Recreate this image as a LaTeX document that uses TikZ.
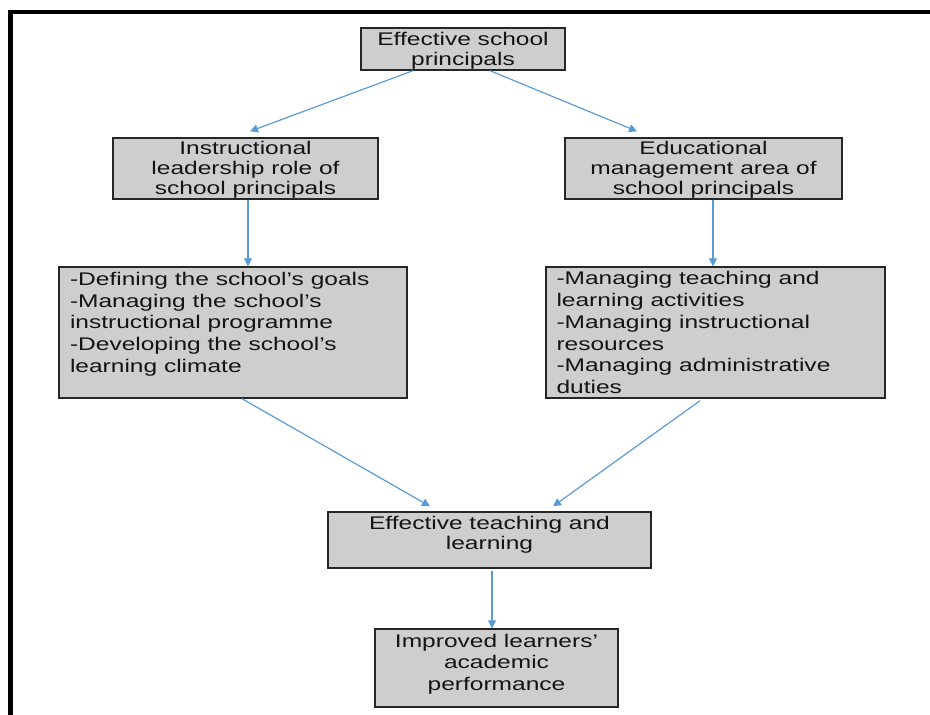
\documentclass[tikz,border=0pt]{standalone}
\usepackage{fontspec}
\setmainfont[FakeStretch=1.34]{Liberation Sans}
\usetikzlibrary{arrows.meta,calc}
\definecolor{boxgray}{RGB}{207,206,207}
\definecolor{arrowblue}{RGB}{91,155,213}
\definecolor{textdark}{RGB}{20,20,20}
\begin{document}
\begin{tikzpicture}[x=1pt,y=1pt,
  box/.style={draw=black!85,line width=1.4pt,fill=boxgray,inner sep=0pt,
    text=textdark,align=center,font=\fontsize{18.3}{20}\selectfont},
  ctext/.style={inner sep=0pt,text=textdark,align=center,font=\fontsize{18.3}{20}\selectfont},
  listtext/.style={inner sep=0pt,text=textdark,align=left,anchor=north west,
    font=\fontsize{18.3}{21.8}\selectfont},
  conn/.style={draw=arrowblue,line width=1.2pt,-{Triangle[length=8pt,width=8pt]}}]
\useasboundingbox (0,0) rectangle (930,-715);
% frame
\draw[line width=4.6pt,black] (10.5,-715) |- (930,-12);
% boxes
\node[box,minimum width=204,minimum height=42] (top) at (463,-49) {};
\node[ctext] (topt) at ($(top)+(0,-1.5)$) {Effective school\\principals};
\node[box,minimum width=265,minimum height=61] (l2) at (245.5,-168.5) {};
\node[ctext] (l2t) at ($(l2)+(0,-1.5)$) {Instructional\\leadership role of\\school principals};
\node[box,minimum width=277,minimum height=61] (r2) at (703.5,-168.5) {};
\node[ctext] (r2t) at ($(r2)+(0,-1)$) {Educational\\management area of\\school principals};
\node[box,minimum width=348,minimum height=131] (l3) at (233,-332.5) {};
\node[listtext] (l3t) at ($(l3.north west)+(11.5,-5.5)$) {-Defining the school’s goals\\-Managing the school’s\\instructional programme\\-Developing the school’s\\learning climate};
\node[box,minimum width=339,minimum height=131] (r3) at (715.5,-332.5) {};
\node[listtext] (r3t) at ($(r3.north west)+(11,-5)$) {-Managing teaching and\\learning activities\\-Managing instructional\\resources\\-Managing administrative\\duties};
\node[box,minimum width=323,minimum height=56] (e5) at (489.5,-540) {};
\node[ctext] (e5t) at ($(e5)+(0,5)$) {Effective teaching and\\learning};
\node[box,minimum width=243,minimum height=78] (e6) at (496.5,-668) {};
\node[ctext,font=\fontsize{18.3}{21.5}\selectfont] (e6t) at ($(e6)+(0,4)$) {Improved learners’\\academic\\performance};
% connectors
\coordinate (a1s) at ($(top.south)+(-50,0)$);
\coordinate (a1e) at ($(l2.north)+(4.5,6)$);
\coordinate (a2s) at ($(top.south)+(27,0)$);
\coordinate (a2e) at ($(r2.north)+(-66.5,6)$);
\coordinate (a3s) at ($(l2.south)+(2.5,0)$);
\coordinate (a4s) at ($(r2.south)+(9.5,0)$);
\coordinate (a5s) at ($(l3.south)+(9,0)$);
\coordinate (a5e) at ($(e5.north)+(-59.5,5)$);
\coordinate (a6s) at ($(r3.south)+(-15.5,-2)$);
\coordinate (a6e) at ($(e5.north)+(63.5,5)$);
\coordinate (a7s) at ($(e5.south)+(2.5,-2)$);
\draw[conn] (a1s) -- (a1e);
\draw[conn] (a2s) -- (a2e);
\draw[conn] (a3s) -- (a3s |- l3.north);
\draw[conn] (a4s) -- (a4s |- r3.north);
\draw[conn] (a5s) -- (a5e);
\draw[conn] (a6s) -- (a6e);
\draw[conn] (a7s) -- (a7s |- e6.north);
\end{tikzpicture}
\end{document}
